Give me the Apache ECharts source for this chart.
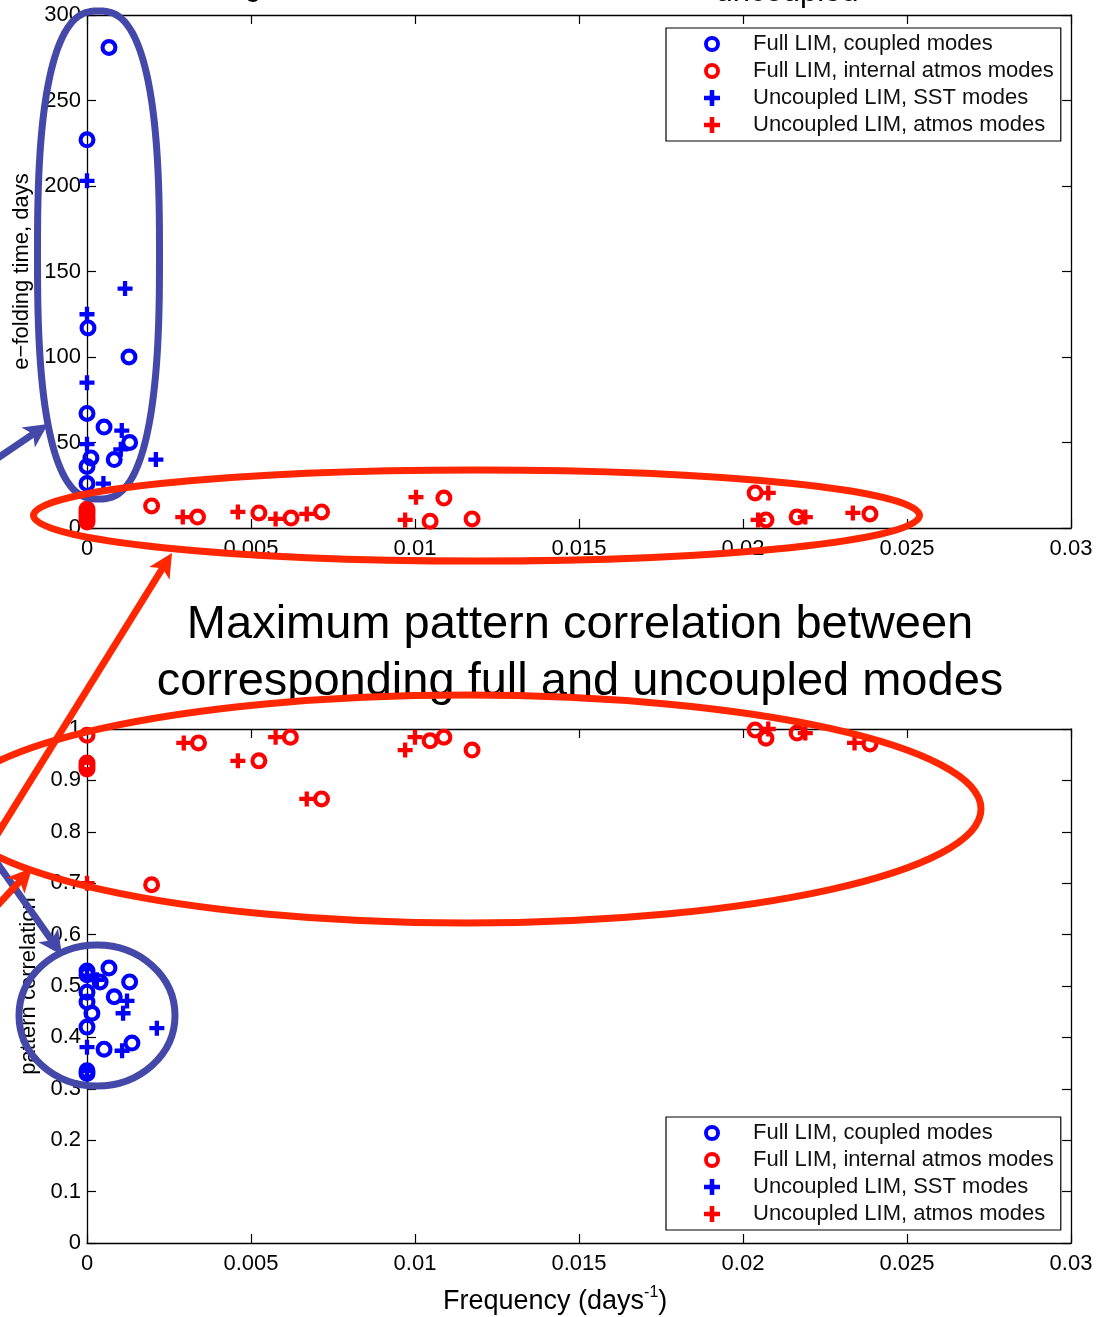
<!DOCTYPE html>
<html>
<head>
<meta charset="utf-8">
<script src="https://cdn.jsdelivr.net/npm/echarts@6/dist/echarts.min.js"></script>
<style>html,body{margin:0;padding:0;background:#fff}#c{width:1106px;height:1317px}</style>
</head>
<body>
<div id="c"></div>
<script>
// ---------- tick labels ----------
const xTickLabels = ['0', '0.005', '0.01', '0.015', '0.02', '0.025', '0.03'];
const yTickLabelsTop = ['0', '50', '100', '150', '200', '250', '300'];
const yTickLabelsBottom = ['0', '0.1', '0.2', '0.3', '0.4', '0.5', '0.6', '0.7', '0.8', '0.9', '1'];

// ---------- legend / series names ----------
const nameFullCoupled = 'Full LIM, coupled modes';
const nameFullAtmos = 'Full LIM, internal atmos modes';
const nameUncSST = 'Uncoupled LIM, SST modes';
const nameUncAtmos = 'Uncoupled LIM, atmos modes';

// ---------- top panel: e-folding time (days) vs frequency ----------
const topFullCoupled = [[0.00067, 281], [0, 227], [0.00003, 117], [0.00128, 100], [0, 67], [0.00052, 59],
  [0.0013, 50], [0.00012, 41], [0.00083, 40], [0, 36], [0, 26]];
const topFullAtmos = [[0, 3.5], [0, 5], [0, 6.5], [0, 8], [0, 9.5], [0, 11], [0.00197, 12.9], [0.00337, 6.4],
  [0.00524, 8.8], [0.00622, 5.8], [0.00715, 9.4], [0.01046, 4], [0.01088, 17.5], [0.01174, 5.3],
  [0.02037, 20.5], [0.0207, 4.7], [0.02165, 6.5], [0.02387, 8.2]];
const topUncSST = [[0, 203], [0.00116, 140], [0, 125], [0, 85], [0.00106, 57], [0, 49], [0.00103, 46],
  [0.0021, 40], [0.0005, 26]];
const topUncAtmos = [[0, 5], [0.00292, 6.4], [0.0046, 9.4], [0.00575, 5.3], [0.0067, 8.2], [0.0097, 4.7],
  [0.01003, 18], [0.02046, 4.7], [0.02077, 20.5], [0.0219, 6.4], [0.02335, 8.8]];

// ---------- bottom panel: max pattern correlation vs frequency ----------
const botFullCoupled = [[0, 0.529], [0, 0.522], [0.00067, 0.535], [0.0004, 0.508], [0.0013, 0.508],
  [0, 0.488], [0.00083, 0.479], [0, 0.469], [0.00015, 0.447], [0, 0.42], [0.00052, 0.377],
  [0.00137, 0.389], [0, 0.335], [0, 0.33]];
const botFullAtmos = [[0, 0.988], [0, 0.934], [0, 0.928], [0, 0.922], [0.00197, 0.697], [0.0034, 0.973],
  [0.00524, 0.938], [0.0062, 0.984], [0.00715, 0.864], [0.01046, 0.977], [0.01088, 0.984],
  [0.01174, 0.959], [0.02037, 0.998], [0.0207, 0.982], [0.02165, 0.992], [0.02387, 0.971]];
const botUncSST = [[0, 0.52], [0.0003, 0.512], [0.00122, 0.471], [0.0011, 0.447], [0.00213, 0.418],
  [0, 0.381], [0.00107, 0.374], [0, 0.335]];
const botUncAtmos = [[0, 0.70], [0.00295, 0.973], [0.0046, 0.938], [0.00575, 0.984], [0.0067, 0.864],
  [0.0097, 0.959], [0.01, 0.984], [0.02077, 1.0], [0.0219, 0.992], [0.0234, 0.973]];

// ---------- styling ----------
const FONT = '"Liberation Sans", Arial, Helvetica, sans-serif';
const BLUE = '#0000ff', RED = '#ff0000';
const ANN_BLUE = '#4448a9', ANN_RED = '#ff2600';
const PLUS = 'path://M5,0H9V5H14V9H9V14H5V9H0V5H5Z';
const RING = 'path://M8,0A8,8 0 1,0 8,16A8,8 0 1,0 8,0ZM8,3.9A4.1,4.1 0 1,1 8,12.1A4.1,4.1 0 1,1 8,3.9Z';

function xAxis(gridIndex, position, showLabel) {
  return {
    type: 'value', gridIndex, position, min: 0, max: 0.03, interval: 0.005,
    axisLine: { show: true, onZero: false, lineStyle: { color: '#000', width: 1.3 } },
    axisTick: { show: true, inside: true, length: 9, lineStyle: { color: '#000', width: 1.2 } },
    axisLabel: { show: showLabel, color: '#000', fontSize: 22, fontFamily: FONT, margin: 10,
      showMinLabel: true, showMaxLabel: true,
      formatter: v => xTickLabels[Math.round(v / 0.005)] },
    splitLine: { show: false }
  };
}
function yAxis(gridIndex, position, showLabel, max, interval, labels, name, nameGap) {
  return {
    type: 'value', gridIndex, position, min: 0, max, interval,
    name: name || '', nameLocation: 'middle', nameGap: nameGap || 0,
    nameTextStyle: { color: '#000', fontSize: 22, fontFamily: FONT },
    axisLine: { show: true, onZero: false, lineStyle: { color: '#000', width: 1.3 } },
    axisTick: { show: true, inside: true, length: 9, lineStyle: { color: '#000', width: 1.2 } },
    axisLabel: { show: showLabel, color: '#000', fontSize: 22, fontFamily: FONT, margin: 6,
      showMinLabel: true, showMaxLabel: true,
      formatter: v => labels[Math.round(v / interval)] },
    splitLine: { show: false }
  };
}
function scatter(name, data, axisIndex, isPlus, color) {
  return {
    type: 'scatter', name, data, xAxisIndex: axisIndex * 2, yAxisIndex: axisIndex * 2,
    symbol: isPlus ? PLUS : RING, symbolSize: isPlus ? 15 : 17,
    itemStyle: { color, borderWidth: 0, opacity: 1 },
    emphasis: { disabled: true }, silent: true, clip: false, z: 3
  };
}
function legend(top) {
  return {
    show: true, orient: 'vertical', left: 666, top, selectedMode: false,
    data: [nameFullCoupled, nameFullAtmos, nameUncSST, nameUncAtmos],
    itemWidth: 72, itemHeight: 16, itemGap: 5, symbolKeepAspect: true,
    padding: [5, 7, 5, 38], borderColor: '#000', borderWidth: 1.2, borderRadius: 0,
    backgroundColor: '#fff',
    itemStyle: { opacity: 1 },
    textStyle: { color: '#111', fontSize: 22, fontFamily: FONT, lineHeight: 20 }
  };
}

// ---------- annotation helpers ----------
function arrow(x1, y1, x2, y2, color, w, headLen, headW) {
  const a = Math.atan2(y2 - y1, x2 - x1);
  const bx = x2 - headLen * Math.cos(a), by = y2 - headLen * Math.sin(a);
  const px = -Math.sin(a) * headW / 2, py = Math.cos(a) * headW / 2;
  return [
    { type: 'line', silent: true, z: 100, shape: { x1, y1, x2: bx + headLen * 0.3 * Math.cos(a), y2: by + headLen * 0.3 * Math.sin(a) },
      style: { stroke: color, lineWidth: w } },
    { type: 'polygon', silent: true, z: 100, shape: { points: [[x2, y2], [bx + px, by + py], [bx + headLen * 0.25 * Math.cos(a), by + headLen * 0.25 * Math.sin(a)], [bx - px, by - py]] },
      style: { fill: color } }
  ];
}
function superEllipse(cx, cy, a, b, n, color, w) {
  const pts = [];
  for (let i = 0; i < 180; i++) {
    const t = i / 180 * Math.PI * 2, c = Math.cos(t), s = Math.sin(t);
    pts.push([cx + a * Math.sign(c) * Math.pow(Math.abs(c), 2 / n), cy + b * Math.sign(s) * Math.pow(Math.abs(s), 2 / n)]);
  }
  return { type: 'polygon', silent: true, z: 100, shape: { points: pts },
    style: { fill: 'transparent', stroke: color, lineWidth: w } };
}
function ellipse(cx, cy, rx, ry, color, w) {
  return { type: 'ellipse', silent: true, z: 100, shape: { cx, cy, rx, ry },
    style: { fill: 'transparent', stroke: color, lineWidth: w } };
}

const chart = echarts.init(document.getElementById('c'), null, { renderer: 'canvas' });
chart.setOption({
  animation: false,
  backgroundColor: '#fff',
  textStyle: { fontFamily: FONT },
  grid: [
    { left: 87, top: 15, width: 984, height: 513, containLabel: false },
    { left: 87, top: 729, width: 984, height: 514, containLabel: false }
  ],
  xAxis: [xAxis(0, 'bottom', true), xAxis(0, 'top', false), xAxis(1, 'bottom', true), xAxis(1, 'top', false)],
  yAxis: [
    yAxis(0, 'left', true, 300, 50, yTickLabelsTop, 'e\u2212folding time, days', 51),
    yAxis(0, 'right', false, 300, 50, yTickLabelsTop),
    yAxis(1, 'left', true, 1, 0.1, yTickLabelsBottom, 'pattern correlation', 44),
    yAxis(1, 'right', false, 1, 0.1, yTickLabelsBottom)
  ],
  legend: [legend(28), legend(1117)],
  series: [
    scatter(nameFullCoupled, topFullCoupled, 0, false, BLUE),
    scatter(nameFullAtmos, topFullAtmos, 0, false, RED),
    scatter(nameUncSST, topUncSST, 0, true, BLUE),
    scatter(nameUncAtmos, topUncAtmos, 0, true, RED),
    scatter(nameFullCoupled, botFullCoupled, 1, false, BLUE),
    scatter(nameFullAtmos, botFullAtmos, 1, false, RED),
    scatter(nameUncSST, botUncSST, 1, true, BLUE),
    scatter(nameUncAtmos, botUncAtmos, 1, true, RED)
  ],
  graphic: [
    // clipped fragments of the upper title
    { type: 'text', silent: true, z: 50, x: 253, y: -14, style: { text: 'g', font: '31px ' + FONT, fill: '#000', align: 'center', verticalAlign: 'middle' } },
    { type: 'text', silent: true, z: 50, x: 787, y: -7.5, style: { text: 'uncoupled', font: '31px ' + FONT, fill: '#000', align: 'center', verticalAlign: 'middle' } },
    // lower title
    { type: 'text', silent: true, z: 50, x: 580, y: 625, style: { text: 'Maximum pattern correlation between', font: '47px ' + FONT, fill: '#000', align: 'center', verticalAlign: 'middle' } },
    { type: 'text', silent: true, z: 50, x: 580, y: 682, style: { text: 'corresponding full and uncoupled modes', font: '47px ' + FONT, fill: '#000', align: 'center', verticalAlign: 'middle' } },
    // x axis title
    { type: 'text', silent: true, z: 50, x: 443, y: 1300, style: {
        text: '{a|Frequency (days}{b|-1}{a|)}', align: 'left', verticalAlign: 'middle',
        rich: { a: { fontSize: 27, fontFamily: FONT, fill: '#000', lineHeight: 30, verticalAlign: 'bottom' },
                b: { fontSize: 16, fontFamily: FONT, fill: '#000', lineHeight: 30, verticalAlign: 'top' } } } },
    // annotations
    superEllipse(98.5, 255, 61, 244, 2.6, ANN_BLUE, 7),
    ellipse(476.5, 515.5, 443, 45.5, ANN_RED, 7),
    ellipse(466, 809, 515, 114, ANN_RED, 7),
    ellipse(97, 1015.5, 78, 70.5, ANN_BLUE, 7),
    ...arrow(-5, 460, 48, 424, ANN_BLUE, 7, 24, 24),
    ...arrow(-5, 860, 62, 955, ANN_BLUE, 7, 24, 24),
    ...arrow(-5, 838, 172, 553, ANN_RED, 7, 24, 24),
    ...arrow(-5, 908, 32, 868, ANN_RED, 7, 24, 24)
  ]
});
</script>
</body>
</html>
